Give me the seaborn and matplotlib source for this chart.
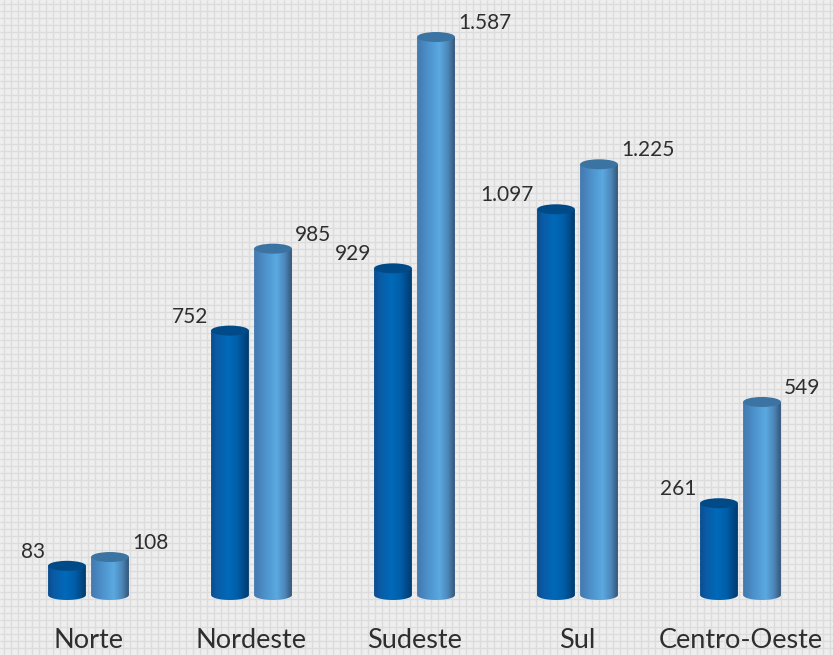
import numpy as np
import pandas as pd
import matplotlib
matplotlib.use("Agg")
import matplotlib.pyplot as plt
import seaborn as sns
from matplotlib.path import Path
from matplotlib.patches import PathPatch, Ellipse
from matplotlib.colors import LinearSegmentedColormap
from matplotlib.collections import LineCollection

# ---- data ----
regioes = ["Norte", "Nordeste", "Sudeste", "Sul", "Centro-Oeste"]
serie_a = [83, 752, 929, 1097, 261]
serie_b = [108, 985, 1587, 1225, 549]
rotulos_a = ["83", "752", "929", "1.097", "261"]
rotulos_b = ["108", "985", "1.587", "1.225", "549"]
series = ["A", "B"]

df = pd.DataFrame({
    "regiao": regioes * 2,
    "serie": [series[0]] * len(regioes) + [series[1]] * len(regioes),
    "valor": serie_a + serie_b,
    "rotulo": rotulos_a + rotulos_b,
})

sns.set_theme(style="white")
plt.rcParams["font.family"] = ["Lato", "DejaVu Sans"]

W, H = 833, 655
fig = plt.figure(figsize=(W / 100, H / 100), dpi=100)
bg = "#eeeeee"
fig.patch.set_facecolor(bg)

# background grid in pixel space
lines = []
for x in np.arange(4, W, 7):
    lines.append([(x / W, 0), (x / W, 1)])
for y in np.arange(4, H, 7):
    lines.append([(0, 1 - y / H), (1, 1 - y / H)])
fig.add_artist(LineCollection(lines, colors="#dcdcdc", linewidths=1.0,
                              transform=fig.transFigure, zorder=0))

ax = fig.add_axes([0, 0, 1, 1])
ax.set_facecolor("none")

sns.barplot(data=df, x="regiao", y="valor", hue="serie", order=regioes,
            hue_order=series, width=0.528, gap=0.12, legend=False, ax=ax)

px_per_unit = 0.3516
base_px = 595
ax.set_xlim(-88.5 / 163, 4 + (W - 88.5 - 4 * 163) / 163)
ax.set_ylim(-(H - base_px) / px_per_unit, base_px / px_per_unit)
ax.set_axis_off()

ell_h = 10 / px_per_unit

cmap_a = LinearSegmentedColormap.from_list("a", [
    (0.0, "#0a4d8e"), (0.15, "#0b5ba5"), (0.45, "#006ab9"),
    (0.7, "#005ea8"), (1.0, "#003a6e")])
cmap_b = LinearSegmentedColormap.from_list("b", [
    (0.0, "#4378ae"), (0.3, "#4d92cc"), (0.6, "#5aa9e0"),
    (0.82, "#4d86b8"), (1.0, "#345578")])
top_a = "#004a88"
top_b = "#3b74a3"

patches = list(ax.patches)
grad = np.linspace(0, 1, 256).reshape(1, -1)
for i, p in enumerate(patches):
    s = i // len(regioes)
    x0 = p.get_x()
    w = p.get_width()
    h = p.get_height()
    cx = x0 + w / 2
    p.set_visible(False)
    # body path: rectangle with rounded (elliptical) bottom
    t = np.linspace(np.pi, 2 * np.pi, 40)
    arc = np.column_stack([cx + (w / 2) * np.cos(t), (ell_h / 2) * np.sin(t)])
    verts = [(x0, h)] + [tuple(v) for v in arc] + [(x0 + w, h), (x0, h)]
    codes = [Path.MOVETO] + [Path.LINETO] * (len(verts) - 2) + [Path.CLOSEPOLY]
    clip = PathPatch(Path(verts, codes), transform=ax.transData,
                     facecolor="none", edgecolor="none")
    ax.add_patch(clip)
    im = ax.imshow(grad, cmap=cmap_a if s == 0 else cmap_b, aspect="auto",
                   extent=(x0, x0 + w, -ell_h, h), zorder=2,
                   interpolation="bilinear")
    im.set_clip_path(clip)
    ax.add_patch(Ellipse((cx, h), w, ell_h, facecolor=top_a if s == 0 else top_b,
                         edgecolor="none", zorder=3))
    lab = df["rotulo"].iloc[i]
    off = 14 / px_per_unit
    if s == 0:
        ax.text(x0 - 0.02, h + off, lab, ha="right", va="center",
                fontsize=15, color="#2e2e2e", zorder=4)
    else:
        ax.text(x0 + w + 0.02, h + off, lab, ha="left", va="center",
                fontsize=15, color="#2e2e2e", zorder=4)

for k, r in enumerate(regioes):
    ax.text(k, -(641 - base_px) / px_per_unit, r, ha="center", va="center",
            fontsize=19.5, color="#2e2e2e")

ax.set_xlim(-88.5 / 163, 4 + (W - 88.5 - 4 * 163) / 163)
ax.set_ylim(-(H - base_px) / px_per_unit, base_px / px_per_unit)

fig.savefig("out.png", dpi=100, facecolor=bg)
